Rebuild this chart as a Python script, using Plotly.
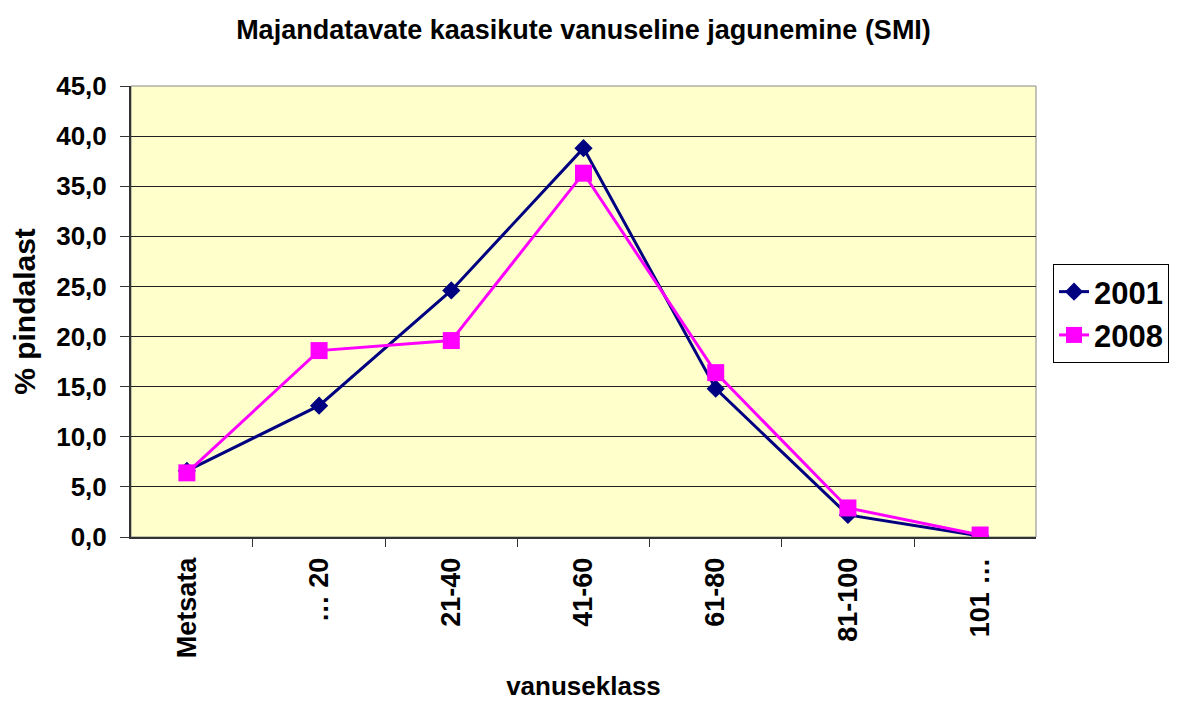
import plotly.graph_objects as go

categories = ["Metsata", "… 20", "21-40", "41-60", "61-80", "81-100", "101 …"]
values_2001 = [6.6, 13.1, 24.6, 38.8, 14.8, 2.2, 0.1]
values_2008 = [6.4, 18.6, 19.6, 36.3, 16.4, 2.9, 0.2]
y_ticks = [0, 5, 10, 15, 20, 25, 30, 35, 40, 45]

FONT = "Liberation Sans, Arial, sans-serif"

fig = go.Figure()
fig.add_trace(go.Scatter(
    x=categories, y=values_2001, name="2001", mode="lines+markers",
    line=dict(color="#000080", width=3),
    marker=dict(symbol="diamond", size=14, color="#000080"),
))
fig.add_trace(go.Scatter(
    x=categories, y=values_2008, name="2008", mode="lines+markers",
    line=dict(color="#FF00FF", width=3),
    marker=dict(symbol="square", size=17, color="#FF00FF"),
))

# page body adds an 8px offset; margins below are in figure coordinates
fig.update_layout(
    width=1184, height=702,
    margin=dict(l=123, r=156, t=78, b=173, autoexpand=False),
    paper_bgcolor="white",
    plot_bgcolor="#FFFFCC",
    separators=", ",
    font=dict(family=FONT, color="black", size=24),
    title=dict(
        text="<b>Majandatavate kaasikute vanuseline jagunemine (SMI)</b>",
        x=0.5, xref="paper", xanchor="center", y=0.969, yref="container", yanchor="middle",
        font=dict(size=27, family=FONT),
    ),
    showlegend=True,
    legend=dict(
        x=1.0188, xanchor="left", y=0.4956, yanchor="middle",
        bordercolor="black", borderwidth=1, bgcolor="white",
        font=dict(size=31, family=FONT, weight="bold"),
        tracegroupgap=0,
    ),
)

fig.update_xaxes(
    type="category",
    tickson="boundaries",
    ticks="outside", ticklen=8, tickcolor="#333333",
    tickangle=-90,
    ticklabelstandoff=8,
    tickfont=dict(size=27, family=FONT, weight="bold"),
    showline=True, linecolor="#333333", linewidth=2,
    showgrid=False,
    automargin=False,
    title=dict(text="<b>vanuseklass</b>", font=dict(size=26, family=FONT), standoff=19),
)
fig.update_yaxes(
    range=[0, 45],
    tickvals=y_ticks,
    tickformat=".1f",
    ticks="outside", ticklen=9, tickcolor="#333333",
    ticklabelstandoff=8,
    tickfont=dict(size=26, family=FONT, weight="bold"),
    showline=True, linecolor="#333333", linewidth=2,
    showgrid=True, gridcolor="#222222", gridwidth=1,
    zeroline=False,
    automargin=False,
    title=dict(text="<b>% pindalast</b>", font=dict(size=30, family=FONT), standoff=18),
)

# right/top border of plot area
fig.add_shape(type="rect", xref="paper", yref="paper", x0=0, y0=0, x1=1, y1=1,
              line=dict(color="#888888", width=1), layer="below")

fig.write_html("out.html")
